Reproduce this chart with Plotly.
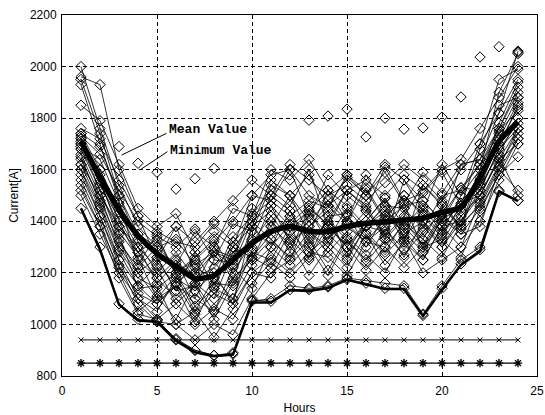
import plotly.graph_objects as go

hours = list(range(1, 25))

s01 = [2000,1760,1540,1380,1300,1330,1230,1280,1250,1430,1520,1460,1600,1380,1520,1450,1330,1560,1480,1400,1620,1640,1820,2060]
s02 = [1960,1930,1600,1420,1250,1380,1200,1300,1170,1380,1560,1500,1350,1520,1400,1580,1450,1320,1540,1470,1380,1600,1900,2050]
s03 = [1950,1740,1500,1350,1260,1130,1280,1150,1320,1250,1400,1280,1450,1390,1300,1400,1490,1330,1450,1360,1500,1700,1950,1990]
s04 = [1930,1700,1480,1230,1350,1190,1050,1180,1100,1290,1460,1320,1380,1440,1260,1380,1360,1470,1290,1410,1450,1560,1780,1940]
s05 = [1850,1790,1620,1450,1380,1430,1280,1360,1300,1500,1480,1600,1420,1580,1500,1440,1610,1480,1510,1590,1460,1680,1850,1880]
s06 = [1740,1600,1430,1300,1220,1080,1150,1020,1160,1280,1250,1380,1250,1330,1450,1360,1280,1400,1310,1430,1440,1540,1700,1800]
s07 = [1720,1580,1400,1250,1180,1250,1100,1050,1220,1140,1300,1440,1300,1190,1330,1250,1370,1290,1380,1300,1420,1500,1640,1760]
s08 = [1700,1550,1380,1300,1160,1240,1190,1280,1230,1400,1330,1250,1430,1350,1280,1400,1490,1380,1300,1420,1530,1520,1680,1780]
s09 = [1680,1520,1350,1140,1150,1000,1050,950,1060,1200,1180,1320,1190,1300,1220,1350,1230,1320,1250,1380,1300,1480,1620,1740]
s10 = [1660,1500,1300,1200,1100,1150,1000,1060,1020,1160,1240,1180,1260,1380,1300,1210,1300,1390,1330,1260,1390,1460,1600,1720]
s11 = [1640,1480,1320,1220,1300,1230,1360,1300,1450,1420,1600,1560,1640,1520,1580,1500,1620,1560,1440,1620,1500,1600,1750,1830]
s12 = [1620,1460,1280,1150,1080,1150,1100,1250,1240,1330,1500,1440,1320,1400,1520,1460,1340,1420,1540,1460,1370,1570,1720,1860]
s13 = [1600,1450,1250,1100,1020,1080,1010,1160,1150,1260,1220,1360,1440,1320,1250,1380,1460,1340,1250,1380,1400,1500,1650,1500]
s14 = [1580,1420,1230,1080,1010,1000,940,1000,960,1100,1200,1250,1330,1210,1340,1270,1200,1330,1200,1250,1300,1400,1560,1700]
s15 = [1560,1400,1200,1050,1110,1020,1160,1100,1280,1300,1380,1500,1400,1480,1400,1530,1410,1500,1420,1340,1460,1550,1700,1840]
s16 = [1540,1380,1180,1040,1020,940,900,880,890,1090,1100,1150,1140,1150,1180,1170,1160,1150,1040,1150,1250,1300,1520,1480]
s17 = [1730,1660,1520,1400,1340,1300,1370,1250,1390,1360,1540,1500,1580,1460,1570,1500,1590,1470,1590,1510,1620,1640,1760,1900]
s18 = [1700,1520,1330,1200,1260,1130,1150,1290,1260,1450,1380,1310,1380,1460,1390,1320,1410,1500,1430,1350,1460,1560,1690,1850]
s19 = [1650,1470,1290,1180,1140,1200,1070,1140,1100,1230,1300,1230,1310,1400,1330,1240,1330,1410,1330,1460,1380,1470,1610,1760]
s20 = [1450,1300,1080,1020,1015,945,900,880,885,1095,1090,1135,1135,1145,1175,1160,1140,1140,1035,1140,1235,1290,1515,1480]
s21 = [1680,1600,1450,1350,1300,1380,1320,1400,1480,1560,1500,1620,1560,1500,1540,1480,1550,1620,1560,1480,1600,1700,1820,1950]
s22 = [1620,1500,1380,1280,1330,1200,1250,1320,1400,1500,1580,1600,1500,1460,1520,1560,1500,1580,1520,1600,1640,1760,1880,2000]
s23 = [1500,1350,1200,1100,1050,1180,1130,1200,1080,1380,1440,1360,1280,1340,1380,1320,1380,1260,1400,1320,1440,1540,1660,1800]
s24 = [1760,1720,1560,1420,1360,1320,1300,1390,1320,1400,1460,1380,1440,1520,1460,1380,1460,1450,1370,1500,1520,1620,1760,1920]
s25 = [1600,1420,1250,1150,1230,1160,1220,1180,1340,1420,1480,1420,1480,1450,1580,1520,1400,1460,1480,1400,1530,1620,1740,1880]
s26 = [1520,1380,1220,1120,1080,1160,1040,1120,1080,1200,1260,1200,1280,1260,1190,1320,1300,1220,1300,1330,1260,1440,1580,1720]
s27 = [1740,1690,1500,1320,1200,1280,1180,1220,1300,1260,1350,1420,1360,1280,1360,1440,1350,1270,1360,1430,1350,1450,1580,1650]
s28 = [1720,1560,1360,1260,1100,1190,1240,1140,1300,1380,1300,1390,1460,1380,1300,1380,1440,1380,1460,1380,1470,1500,1640,1700]
s29 = [1690,1640,1470,1330,1290,1200,1260,1330,1200,1320,1420,1330,1260,1420,1430,1300,1420,1360,1280,1410,1350,1380,1600,1520]
s30 = [1710,1540,1410,1280,1180,1100,1160,1050,1180,1250,1330,1260,1360,1300,1420,1350,1270,1350,1400,1300,1400,1520,1680,1760]

outlier_hours = [3, 4, 5, 6, 7, 8, 13, 14, 15, 16, 17, 18, 19, 20, 21, 22, 23, 24]
outlier_vals = [1690, 1625, 1590, 1525, 1565, 1605, 1792, 1808, 1835, 1727, 1800, 1757, 1762, 1804, 1882, 2037, 2077, 2056]

mean_vals = [1710,1570,1445,1345,1275,1225,1178,1190,1250,1315,1360,1380,1362,1360,1380,1392,1398,1405,1412,1435,1455,1570,1710,1785]
min_vals = [1450,1290,1077,1015,1010,937,892,877,883,1085,1085,1133,1130,1141,1173,1155,1137,1137,1032,1135,1231,1283,1515,1478]
limit_x = [940] * 24
limit_star = [850] * 24

series = [s01, s02, s03, s04, s05, s06, s07, s08, s09, s10, s11, s12, s13, s14, s15,
          s16, s17, s18, s19, s20, s21, s22, s23, s24, s25, s26, s27, s28, s29, s30]

fig = go.Figure()
for s in series:
    fig.add_trace(go.Scatter(
        x=hours, y=s, mode="lines+markers",
        line=dict(color="black", width=0.8),
        marker=dict(symbol="diamond-open", size=8, color="black", line=dict(width=1)),
        showlegend=False, hoverinfo="skip"))

fig.add_trace(go.Scatter(
    x=outlier_hours, y=outlier_vals, mode="markers",
    marker=dict(symbol="diamond-open", size=8, color="black", line=dict(width=1)),
    showlegend=False))

fig.add_trace(go.Scatter(x=hours, y=min_vals, mode="lines",
                         line=dict(color="black", width=2.5), showlegend=False))
fig.add_trace(go.Scatter(x=hours, y=mean_vals, mode="lines",
                         line=dict(color="black", width=5.5, shape="spline", smoothing=0.6),
                         showlegend=False))
fig.add_trace(go.Scatter(x=hours, y=limit_x, mode="lines+markers",
                         line=dict(color="black", width=1),
                         marker=dict(symbol="x-thin-open", size=5, color="black", line=dict(width=1, color="black")),
                         showlegend=False))
fig.add_trace(go.Scatter(x=hours, y=limit_star, mode="lines+markers",
                         line=dict(color="black", width=1.3),
                         marker=dict(symbol="asterisk-open", size=7, color="black", line=dict(width=1.4, color="black")),
                         showlegend=False))

# leader lines
fig.add_shape(type="line", x0=5.5, y0=1741, x1=3.14, y1=1657, line=dict(color="black", width=1))
fig.add_shape(type="line", x0=5.55, y0=1670, x1=4.1, y1=1599, line=dict(color="black", width=1))
fig.add_annotation(x=5.55, y=1756, text="<b>Mean Value</b>", showarrow=False, xanchor="left", yanchor="middle",
                   font=dict(family="Liberation Mono", size=13, color="black"))
fig.add_annotation(x=5.6, y=1676, text="<b>Minimum Value</b>", showarrow=False, xanchor="left", yanchor="middle",
                   font=dict(family="Liberation Mono", size=13, color="black"))

axis_common = dict(showline=True, linecolor="black", linewidth=1, mirror=True,
                   ticks="inside", ticklen=4, tickcolor="black", automargin=False,
                   showgrid=True, gridcolor="black", gridwidth=1, griddash="4px,3px",
                   zeroline=False, tickfont=dict(family="Liberation Sans", size=12, color="black"))

fig.update_xaxes(range=[0, 25], tickvals=[0, 5, 10, 15, 20, 25], ticklabelstandoff=4,
                 title=dict(text="Hours", font=dict(family="Liberation Sans", size=12, color="black"), standoff=6),
                 **axis_common)
fig.update_yaxes(range=[800, 2200], tickvals=[800, 1000, 1200, 1400, 1600, 1800, 2000, 2200], ticklabelstandoff=2,
                 title=dict(text="Current[A]", font=dict(family="Liberation Sans", size=12, color="black"), standoff=8),
                 **axis_common)

fig.update_layout(width=545, height=415, autosize=False,
                  margin=dict(l=62, r=8, t=15, b=39),
                  plot_bgcolor="white", paper_bgcolor="white")

fig.write_html("out.html", config={"displayModeBar": False},
               post_script="document.body.style.margin='0';")
